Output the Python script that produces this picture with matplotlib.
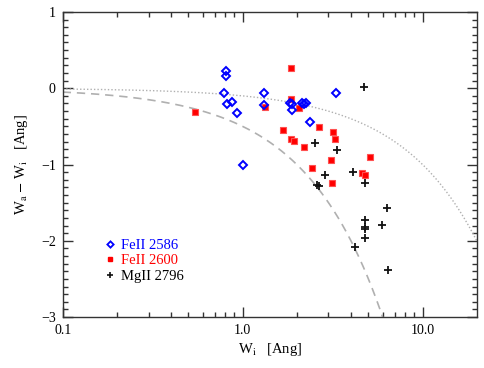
import numpy as np
import matplotlib
matplotlib.use("Agg")
import matplotlib.pyplot as plt
from matplotlib.ticker import FixedLocator, MultipleLocator, FixedFormatter, NullFormatter
from matplotlib.lines import Line2D

plt.rcParams['font.family'] = ['Liberation Serif', 'DejaVu Serif']
plt.rcParams['mathtext.fontset'] = 'stix'

# --- data ---
fe2586_w = [0.813, 0.813, 0.79, 0.815, 0.872, 0.936, 1.32, 1.32, 1.0, 1.84, 1.87,
            1.89, 2.13, 2.19, 2.25, 2.37, 3.30]
fe2586_d = [0.225, 0.167, -0.066, -0.208, -0.185, -0.331, -0.066, -0.221, -1.0, -0.199,
            -0.208, -0.287, -0.199, -0.208, -0.199, -0.446, -0.062]

fe2600_w = [0.547, 1.862, 1.862, 1.34, 2.055, 1.675, 2.665, 3.195, 3.26, 1.862, 1.94,
            2.20, 3.08, 5.10, 2.43, 4.60, 4.80, 3.15]
fe2600_d = [-0.305, 0.269, -0.135, -0.244, -0.261, -0.546, -0.513, -0.575, -0.661, -0.662,
            -0.689, -0.768, -0.936, -0.897, -1.049, -1.105, -1.144, -1.238]

mg2796_w = [4.75, 2.53, 3.34, 2.855, 2.654, 2.60, 4.095, 4.80, 6.36, 4.76, 5.92, 4.76,
            4.76, 4.76, 4.19, 6.42]
mg2796_d = [0.015, -0.718, -0.804, -1.135, -1.277, -1.268, -1.102, -1.237, -1.566, -1.722,
            -1.797, -1.82, -1.846, -1.963, -2.085, -2.384]

slope_dotted = -0.1
slope_dashed = -0.5

xticks = [0.1, 1.0, 10.0]
xtick_labels = ['0.1', '1.0', '10.0']
yticks = [-3, -2, -1, 0, 1]
ytick_labels = ['\u22123', '\u22122', '\u22121', '0', '1']

# --- figure ---
fig = plt.figure(figsize=(4.85, 3.68), dpi=100)
ax = fig.add_axes([62.7/485, 1-317/368, (476.7-62.7)/485, (317-12)/368])

xs = np.logspace(np.log10(0.1), np.log10(20), 300)
ax.plot(xs, slope_dotted*xs, ls=(0, (1, 1.5)), color='#b0b0b0', lw=1.0)
ax.plot(xs, slope_dashed*xs, ls=(0, (5, 3.5)), color='#b0b0b0', lw=1.2)

ax.plot(mg2796_w, mg2796_d, ls='none', marker='+', ms=6, mew=1.3, color='#111111')
ax.plot(fe2600_w, fe2600_d, ls='none', marker='s', ms=4.5, mew=0.8, mfc='red', mec='#ff5050')
ax.plot(fe2586_w, fe2586_d, ls='none', marker='D', ms=4.2, mew=1.4, mfc='none', mec='blue')

ax.set_xscale('log')
ax.set_xlim(0.1, 20)
ax.set_ylim(-3, 1)

ax.xaxis.set_major_locator(FixedLocator(xticks))
ax.xaxis.set_major_formatter(FixedFormatter(xtick_labels))
ax.xaxis.set_minor_locator(FixedLocator([0.2,0.3,0.4,0.5,0.6,0.7,0.8,0.9,2,3,4,5,6,7,8,9]))
ax.xaxis.set_minor_formatter(NullFormatter())
ax.yaxis.set_major_locator(FixedLocator(yticks))
ax.yaxis.set_major_formatter(FixedFormatter(ytick_labels))
ax.yaxis.set_minor_locator(MultipleLocator(0.1))

ax.tick_params(which='both', direction='in', top=True, right=True, colors='#333333',
               labelcolor='black', labelsize=10)
ax.tick_params(which='major', length=7, width=1.0, pad=5)
ax.tick_params(which='minor', length=3.5, width=1.0)
for s in ax.spines.values():
    s.set_color('#333333')
    s.set_linewidth(1.0)

ax.set_xlabel(r'W$_{\rm i}$   [Ang]', fontsize=10.5, labelpad=3)
ax.set_ylabel(r'W$_{\rm a}$ $-$ W$_{\rm i}$   [Ang]', fontsize=10.5, labelpad=8)

handles = [
    Line2D([], [], ls='none', marker='D', ms=3.2, mew=1.3, mfc='none', mec='blue'),
    Line2D([], [], ls='none', marker='s', ms=3.5, mfc='red', mec='red'),
    Line2D([], [], ls='none', marker='+', ms=4.5, mew=1.2, color='#111111'),
]
leg = ax.legend(handles, ['FeII 2586', 'FeII 2600', 'MgII 2796'], frameon=False,
                loc='upper left', bbox_to_anchor=(0.085, 0.28), fontsize=10.5,
                handlelength=0.6, handletextpad=0.5, labelspacing=0.15, borderpad=0)
for t, c in zip(leg.get_texts(), ['blue', 'red', 'black']):
    t.set_color(c)

fig.savefig('out.png', dpi=100)
